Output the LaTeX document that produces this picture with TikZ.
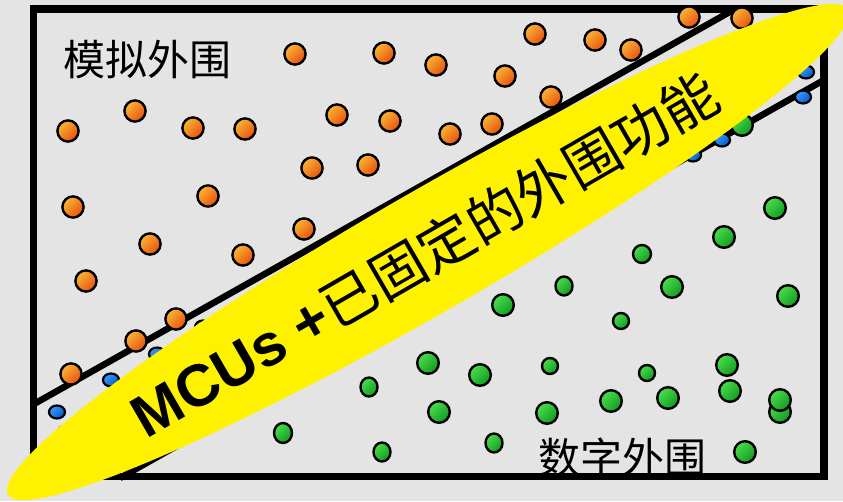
\documentclass[tikz,border=0pt]{standalone}
\usepackage{fontspec}
\usetikzlibrary{shapes.geometric}
\newfontfamily\cjk{Noto Sans CJK SC}
\newfontfamily\lsb{Liberation Sans}
\definecolor{bg}{HTML}{E4E4E4}
\definecolor{oL}{HTML}{FAB535}
\definecolor{oD}{HTML}{E8500E}
\definecolor{gL}{HTML}{4ADD4A}
\definecolor{gD}{HTML}{129A22}
\definecolor{bL}{HTML}{3A9CFF}
\definecolor{bD}{HTML}{0058C8}
\tikzset{
  odot/.style={draw=black, line width=2.4pt, top color=oL, bottom color=oD, shading angle=45},
  gdot/.style={draw=black, line width=2.4pt, top color=gL, bottom color=gD, shading angle=45},
  bdot/.style={draw=black, line width=2.2pt, top color=bL, bottom color=bD, shading angle=45},
  divider/.style={draw=black, line width=6.5pt},
  frame/.style={draw=black, line width=7.5pt},
  label/.style={inner sep=0pt, font=\cjk\fontsize{42}{42}\selectfont}
}
\begin{document}
\begin{tikzpicture}[x=1pt,y=-1pt]
\useasboundingbox (0,0) rectangle (843,501);
\fill[bg] (0,0) rectangle (843,501);
% labels
\node[label] (ana) at (147,60) {模拟外围};
\node[label] (dig) at (622,457) {数字外围};
% frame
\draw[frame] (33.5,9) rectangle (824,476.5);
% divider lines
\coordinate (u1) at (34,404);
\coordinate (u2) at (735,9);
\coordinate (l1) at (120,478);
\coordinate (l2) at (824,80);
\draw[divider] (u1) -- (u2);
\draw[divider] (l1) -- (l2);
% orange dots
\foreach \x/\y in {295/54,384/53,436/65,535/34,595/40,631/50,689/17,742/18,505/76,551/97,
  68/131,135/111,193/128,245/129,337/115,390/121,450/134,492/124,
  312/168,368/165,73/207,208/196,150/244,243/255,304/229,86/281,
  176/319,136/341,71/374}
  \draw[odot] (\x,\y) circle[radius=10.6pt];
% blue dots
\foreach \x/\y in {57/412,111/380,157/354,203/327,66/432,693/155,722/140,803/97,806/72}
  \draw[bdot] (\x,\y) ellipse[x radius=8pt, y radius=6.5pt];
% green dots, large
\foreach \x/\y in {672/287,788/296,503/305,775/208,724/237,428/363,480/375,727/365,
  439/412,547/413,611/401,668/398,730/391,780/412,780/400,745/452,742/125}
  \draw[gdot] (\x,\y) circle[radius=10.8pt];
% green dots, small
\draw[gdot] (642,254) circle[radius=9pt];
\draw[gdot] (564,286) ellipse[x radius=8.5pt, y radius=9.5pt];
\draw[gdot] (621,321) circle[radius=8pt];
\draw[gdot] (550,366) circle[radius=8pt];
\draw[gdot] (647,373) circle[radius=8pt];
\draw[gdot] (369,387) ellipse[x radius=8.5pt, y radius=9.5pt];
\draw[gdot] (283,433) ellipse[x radius=9pt, y radius=10pt];
\draw[gdot] (382,452) ellipse[x radius=8.5pt, y radius=9.5pt];
\draw[gdot] (494,443) ellipse[x radius=8.5pt, y radius=9.5pt];
% yellow ellipse
\node[ellipse, fill=yellow, inner sep=0pt, minimum width=970pt, minimum height=120pt, rotate=30] (ell) at (428,252) {};
\node[inner sep=0pt, rotate=30] (title) at (424.5,254)
  {{\lsb\bfseries\fontsize{59}{59}\selectfont MCUs +}{\cjk\fontsize{56}{56}\selectfont 已固定的外围功能}};
\end{tikzpicture}
\end{document}
